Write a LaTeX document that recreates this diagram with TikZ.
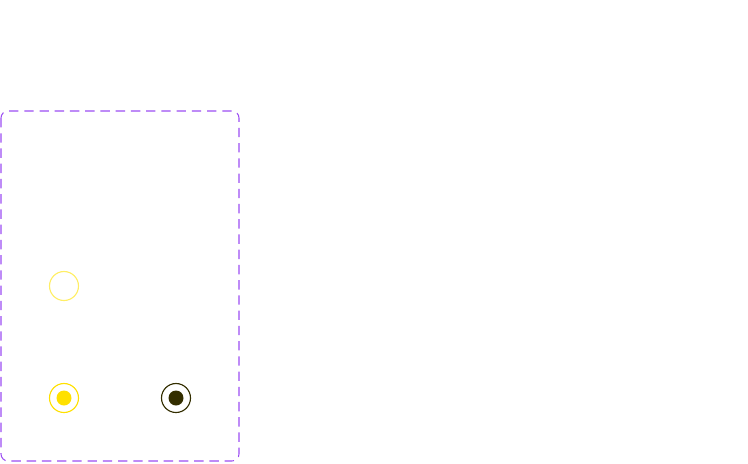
\documentclass[tikz,border=0pt]{standalone}
\usepackage{tikz}
\definecolor{groupline}{HTML}{9B4DF2}
\definecolor{paleyellow}{HTML}{FFEE66}
\definecolor{brightyellow}{HTML}{FFE000}
\definecolor{darkolive}{HTML}{332E00}

\begin{document}
\begin{tikzpicture}[x=0.03cm, y=-0.03cm,
  ring/.style = {circle, draw, line width=1.3pt*0.75, minimum size=29*0.03cm, inner sep=0pt},
  dot/.style  = {circle, minimum size=15*0.03cm, inner sep=0pt},
  ]
\useasboundingbox (0,0) rectangle (748,463);
\draw [groupline, dashed, dash pattern=on 8pt off 5pt, line width=0.9pt, rounded corners=6pt]
      (1,111) rectangle (239,461);
\node [ring, draw=paleyellow] (empty) at (64,286) {};
\node [ring, draw=brightyellow] (yellow) at (64,398) {};
\node [dot, fill=brightyellow] (yellowdot) at (yellow) {};
\node [ring, draw=darkolive] (dark) at (176,398) {};
\node [dot, fill=darkolive] (darkdot) at (dark) {};
\end{tikzpicture}
\end{document}
